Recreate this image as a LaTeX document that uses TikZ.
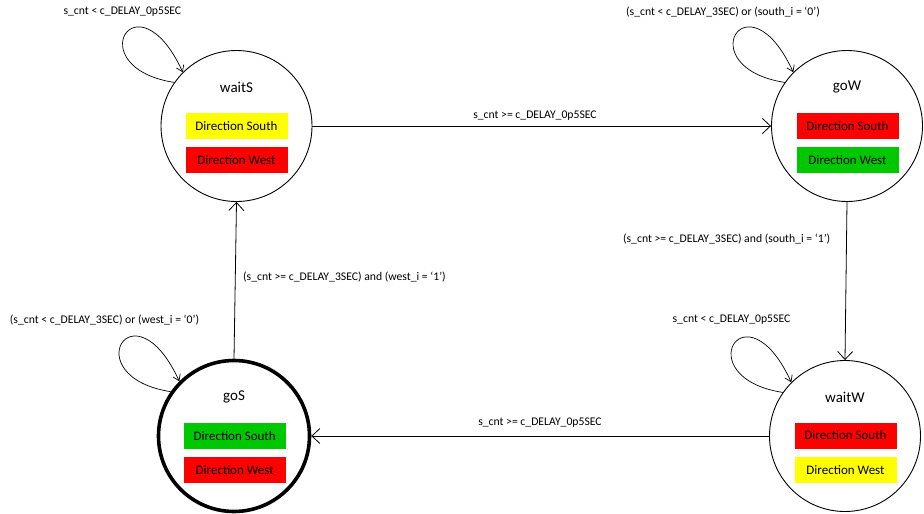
\documentclass[tikz,border=0pt]{standalone}
\usepackage{fontspec}
\setmainfont{Carlito}
\usetikzlibrary{arrows.meta}
\begin{document}
\begin{tikzpicture}[x=1pt,y=-1pt,
  state/.style={circle,draw=black,line width=0.9pt,minimum size=151pt,inner sep=0pt},
  initstate/.style={state,line width=3.6pt},
  sname/.style={font=\fontsize{15}{17}\selectfont},
  lamp/.style={minimum width=102pt,minimum height=26pt,inner sep=0pt,font=\fontsize{13}{15}\selectfont},
  yel/.style={lamp,fill={rgb,255:red,255;green,255;blue,0}},
  rd/.style={lamp,fill={rgb,255:red,255;green,0;blue,0}},
  grn/.style={lamp,fill={rgb,255:red,0;green,200;blue,0}},
  lbl/.style={font=\fontsize{11.7}{13}\selectfont,inner sep=0pt},
  edge/.style={draw=black,line width=0.8pt,-{Straight Barb[length=8pt,width=15pt]}},
  loopedge/.style={draw=black,line width=0.7pt,-{Straight Barb[length=6pt,width=8pt]}}
]
\useasboundingbox (0,0) rectangle (924,514);

% states
\node[state] (ws) at (236.5,126) {};
\node[state] (gw) at (847,126) {};
\node[initstate] (gs) at (234,436) {};
\node[state] (ww) at (845,436) {};

% names and lamps
\node[sname] (wsn) at (236.5,87) {waitS};
\node[yel] (wss) at (236.5,126.3) {Direction South};
\node[rd] (wsw) at (236.5,160.3) {Direction West};

\node[sname] (gwn) at (847,87) {goW};
\node[rd] (gws) at (847.5,126.3) {Direction South};
\node[grn] (gww) at (847.5,160.3) {Direction West};

\node[sname] (gsn) at (234,397) {goS};
\node[grn] (gss) at (234.7,435.8) {Direction South};
\node[rd] (gsw) at (234.7,469.7) {Direction West};

\node[sname] (wwn) at (845,397) {waitW};
\node[rd] (wws) at (845.5,435.5) {Direction South};
\node[yel] (www) at (845.5,470) {Direction West};

% transitions
\draw[edge] (ws.east) -- (gw.west);
\draw[edge] (gw.south) -- (ww.north);
\draw[edge] (ww.west) -- (gs.east);
\draw[edge] (gs.north) -- (ws.south);

% self loops
\draw[loopedge] (ws.145) .. controls +(-96,-15) and +(-46,-100) .. (ws.135);
\draw[loopedge] (gw.145) .. controls +(-96,-15) and +(-46,-100) .. (gw.135);
\draw[loopedge] (gs.145) .. controls +(-96,-15) and +(-46,-100) .. (gs.135);
\draw[loopedge] (ww.145) .. controls +(-96,-15) and +(-46,-100) .. (ww.135);

% labels
\node[lbl] (l1) at (122.4,12) {s\_cnt < c\_DELAY\_0p5SEC};
\node[lbl] (l2) at (723,12) {(s\_cnt < c\_DELAY\_3SEC) or (south\_i = ‘0’)};
\node[lbl] (l3) at (535,116) {s\_cnt >= c\_DELAY\_0p5SEC};
\node[lbl] (l4) at (726.7,239) {(s\_cnt >= c\_DELAY\_3SEC) and (south\_i = ‘1’)};
\node[lbl] (l5) at (731.5,320) {s\_cnt < c\_DELAY\_0p5SEC};
\node[lbl] (l6) at (540,423) {s\_cnt >= c\_DELAY\_0p5SEC};
\node[lbl] (l7) at (344.5,277) {(s\_cnt >= c\_DELAY\_3SEC) and (west\_i = ‘1’)};
\node[lbl] (l8) at (104.5,320) {(s\_cnt < c\_DELAY\_3SEC) or (west\_i = ‘0’)};
\end{tikzpicture}
\end{document}
